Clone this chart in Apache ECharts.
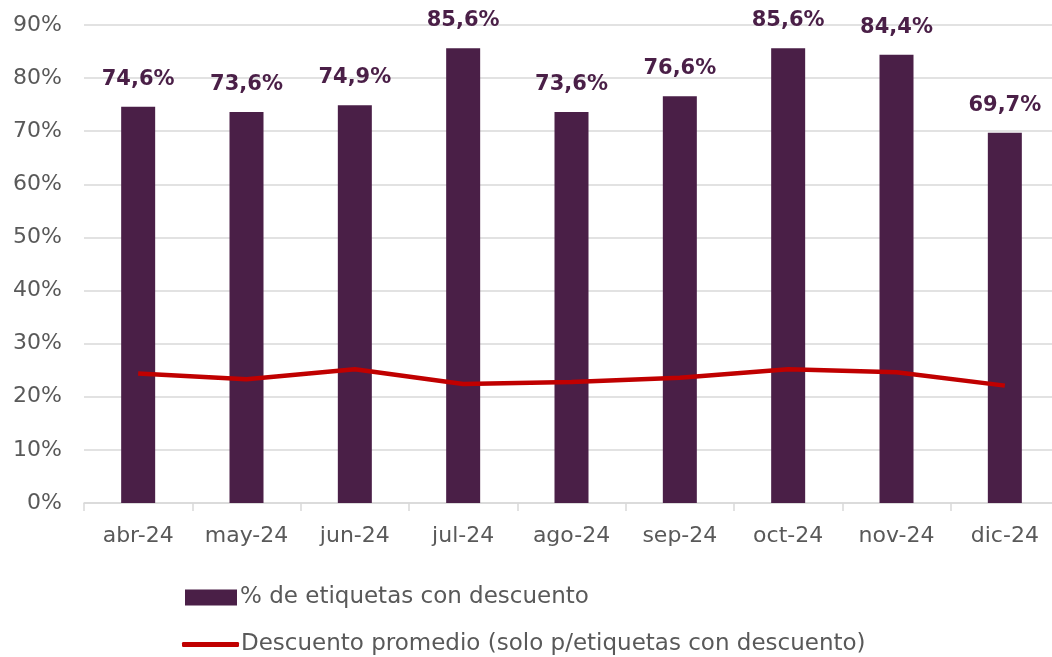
<!DOCTYPE html>
<html><head><meta charset="utf-8">
<script src="https://cdn.jsdelivr.net/npm/echarts@6/dist/echarts.min.js"></script>
<style>html,body{margin:0;padding:0;background:#fff}#c{width:1052px;height:657px}</style>
</head><body><div id="c"></div>
<script>
const categories = ['abr-24','may-24','jun-24','jul-24','ago-24','sep-24','oct-24','nov-24','dic-24'];
const pctConDescuento = [74.6, 73.6, 74.9, 85.6, 73.6, 76.6, 85.6, 84.4, 69.7];
const descuentoPromedio = [24.4, 23.3, 25.2, 22.4, 22.8, 23.6, 25.2, 24.6, 22.1];
const yTicks = [0,10,20,30,40,50,60,70,80,90];
const seriesNames = ['% de etiquetas con descuento','Descuento promedio (solo p/etiquetas con descuento)'];

const FONT = 'DejaVu Sans';
const chart = echarts.init(document.getElementById('c'), null, {renderer:'canvas'});
chart.setOption({
  animation:false,
  textStyle:{fontFamily:FONT},
  grid:{left:84, top:25, width:975, height:478, containLabel:false, outerBoundsMode:'none'},
  legend:[
    {left:180, top:581, itemWidth:52, itemHeight:16, itemGap:0,
      textStyle:{fontFamily:FONT, fontSize:23, color:'#595959', padding:[0,0,0,-2]},
      data:[{name:seriesNames[0], icon:'rect'}]},
    {left:177, top:628, itemWidth:57, itemHeight:5, itemGap:0,
      textStyle:{fontFamily:FONT, fontSize:23, color:'#595959', padding:[0,0,0,-3]},
      data:[{name:seriesNames[1], icon:'roundRect', itemStyle:{color:'#c00000'}}]}
  ],
  xAxis:{
    type:'category', data:categories, boundaryGap:true,
    axisLine:{lineStyle:{color:'#d9d9d9', width:1.5}},
    axisTick:{show:true, interval:0, length:8, lineStyle:{color:'#d9d9d9', width:1.5}},
    axisLabel:{interval:0, hideOverlap:false, fontFamily:FONT, fontSize:22, color:'#595959', margin:22}
  },
  yAxis:{
    type:'value', min:0, max:90, interval:10,
    axisLine:{show:false}, axisTick:{show:false},
    splitLine:{lineStyle:{color:'#d9d9d9', width:1.5}},
    axisLabel:{fontFamily:FONT, fontSize:22, color:'#595959', margin:22,
      formatter:v => yTicks.includes(v) ? v + '%' : ''}
  },
  series:[
    {name:seriesNames[0], type:'bar', data:pctConDescuento, barWidth:34,
      itemStyle:{color:'#4a1f47'},
      label:{show:true, position:'top', distance:17, fontFamily:FONT, fontWeight:'bold', fontSize:21, color:'#4a1f47',
        formatter:p => p.value.toFixed(1).replace('.', ',') + '%'}},
    {name:seriesNames[1], type:'line', data:descuentoPromedio, symbol:'none',
      lineStyle:{color:'#c00000', width:4.5}, itemStyle:{color:'#c00000'}}
  ]
});
</script></body></html>
